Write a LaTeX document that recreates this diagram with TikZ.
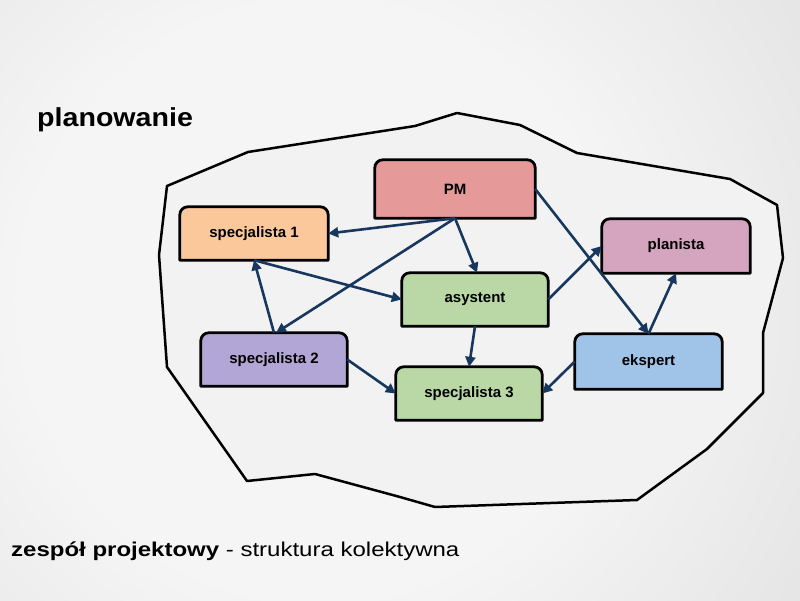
\documentclass[tikz,border=0pt]{standalone}
\usepackage{fontspec}
\setmainfont{Liberation Sans}
\newfontfamily\titlefont{Liberation Sans}[FakeStretch=1.1]
\newfontfamily\bottomfont{Liberation Sans}[FakeStretch=1.2]
\usetikzlibrary{arrows.meta,calc}
\pgfdeclarelayer{bg}\pgfdeclarelayer{boxes}\pgfsetlayers{bg,boxes,main}
\definecolor{arrowblue}{RGB}{23,55,94}
\definecolor{bgin}{RGB}{245,245,245}
\definecolor{bgout}{RGB}{190,190,190}
\definecolor{blobfill}{RGB}{242,242,242}
\definecolor{pmcol}{RGB}{230,153,153}
\definecolor{sonecol}{RGB}{250,200,155}
\definecolor{placol}{RGB}{213,164,190}
\definecolor{ascol}{RGB}{185,216,165}
\definecolor{stwocol}{RGB}{178,166,214}
\definecolor{ekcol}{RGB}{160,196,232}
\pgfdeclareradialshading{bgshade}{\pgfpoint{0bp}{0bp}}{color(0bp)=(bgin); color(12bp)=(bgin); color(50bp)=(bgout)}
\tikzset{
  box/.style={inner sep=0pt, font=\fontsize{15}{18}\selectfont\bfseries, text=black},
  boxline/.style={draw=black, line width=2.8pt, line join=round},
  blob/.style={draw=black, line width=2.5pt, line join=round, fill=blobfill},
  link/.style={draw=arrowblue, line width=2.6pt, -{Triangle[length=10pt,width=10pt]}}
}
\newcommand\topbox[2]{\draw[boxline,fill=#2] (#1.south west) -- ([yshift=-8pt]#1.north west) arc[start angle=180,end angle=90,radius=8pt] -- ([xshift=-8pt]#1.north east) arc[start angle=90,end angle=0,radius=8pt] -- (#1.south east) -- cycle;}
\begin{document}
\begin{tikzpicture}[x=1pt,y=1pt]
\useasboundingbox (0,0) rectangle (800,600);
\begin{pgfonlayer}{bg}
\begin{scope}
\clip (0,0) rectangle (800,600);
\shade[shading=bgshade] (320,300) circle[radius=620];
\end{scope}
\draw[blob] (167,414) -- (248,448) -- (415,474) -- (457,487) -- (520,475) -- (577,447) -- (730,421) -- (777,395) -- (783,342) -- (763,267) -- (763,207) -- (707,151) -- (637,100) -- (435,93) -- (400,103) -- (315,126) -- (247,119) -- (167,233) -- (159,345) -- cycle;
\end{pgfonlayer}

\node[box, minimum width=160, minimum height=58] (pm) at (455,411) {PM};
\node[box, minimum width=148, minimum height=53] (sone) at (254,366.5) {specjalista 1};
\node[box, minimum width=148, minimum height=54] (pla) at (676,354) {planista};
\node[box, minimum width=146, minimum height=53] (as) at (475,300.5) {asystent};
\node[box, minimum width=146, minimum height=53] (stwo) at (274,240.5) {specjalista 2};
\node[box, minimum width=147, minimum height=55] (ek) at (648.5,238.5) {ekspert};
\node[box, minimum width=146, minimum height=53] (sthree) at (469,206.5) {specjalista 3};

\begin{pgfonlayer}{boxes}
\topbox{pm}{pmcol}
\topbox{sone}{sonecol}
\topbox{pla}{placol}
\topbox{as}{ascol}
\topbox{stwo}{stwocol}
\topbox{ek}{ekcol}
\topbox{sthree}{ascol}
\end{pgfonlayer}

\draw[link] (pm.south) -- (sone.east);
\draw[link] (pm.south) -- ([xshift=2pt]as.north);
\draw[link] (pm.south) -- ([xshift=2pt]stwo.north);
\draw[link] (stwo.north) -- (sone.south);
\draw[link] (sone.south) -- (as.west);
\draw[link] (as.east) -- (pla.west);
\draw[link] (pm.east) -- (ek.north);
\draw[link] (ek.north) -- (pla.south);
\draw[link] (as.south) -- (sthree.north);
\draw[link] (stwo.east) -- (sthree.west);
\draw[link] (ek.west) -- (sthree.east);

\node[anchor=base west, inner sep=0pt, font=\titlefont\fontsize{26}{30}\selectfont\bfseries] (title) at (37,473) {planowanie};
\node[anchor=base west, inner sep=0pt, font=\bottomfont\fontsize{20}{24}\selectfont] (caption) at (11,44) {\textbf{zespół projektowy} - struktura kolektywna};
\end{tikzpicture}
\end{document}
